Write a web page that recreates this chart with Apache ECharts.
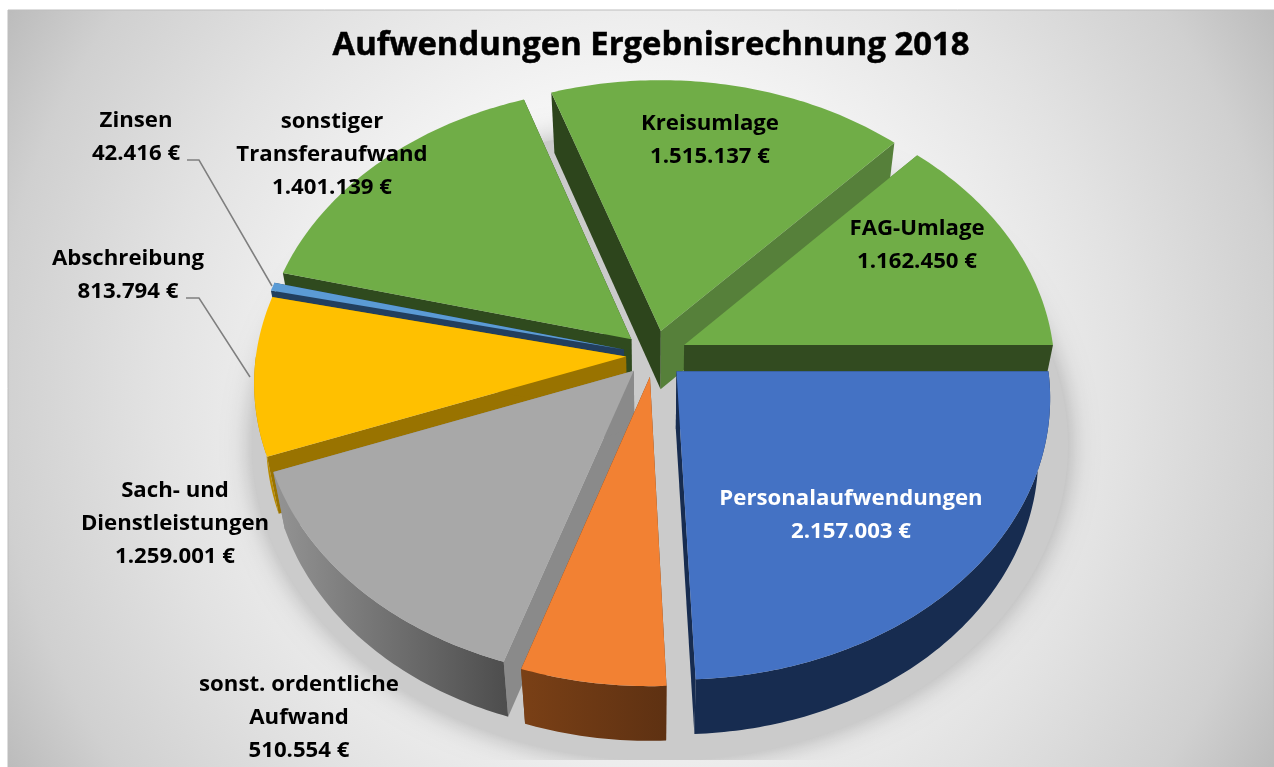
<!DOCTYPE html>
<html>
<head>
<meta charset="utf-8">
<style>html,body{margin:0;padding:0;background:#fff}#c{width:1274px;height:767px}</style>
<script src="https://cdn.jsdelivr.net/npm/echarts@6/dist/echarts.min.js"></script>
</head>
<body>
<div id="c"></div>
<script>
// ---- data ----
const chartTitle = 'Aufwendungen Ergebnisrechnung 2018';
const categories = ['Personalaufwendungen', 'sonst. ordentliche\nAufwand', 'Sach- und\nDienstleistungen', 'Abschreibung', 'Zinsen', 'sonstiger\nTransferaufwand', 'Kreisumlage', 'FAG-Umlage'];
const values = [2157003, 510554, 1259001, 813794, 42416, 1401139, 1515137, 1162450];

// ---- style ----
const topColors = ['#4472c4', '#f28133', '#a8a8a8', '#ffc000', '#5b9bd5', '#70ad47', '#70ad47', '#70ad47'];
const startWall = ['#172c50', '#6a3815', '#8a8a8a', '#997300', '#223f5e', '#2f4a1e', '#2d451c', '#56803a'];
const endWall = ['#172c50', '#6a3815', '#8a8a8a', '#997300', '#223f5e', '#2f4a1e', '#56803a', '#324b20'];
const rimFrom = ['#172c50', '#7a4016', '#949494', '#b88a00', '#223f5e', '#2f4a1e', '#2d451c', '#324b20'];
const rimTo = ['#172c50', '#5e3112', '#4e4e4e', '#b88a00', '#223f5e', '#2f4a1e', '#2d451c', '#324b20'];
const labelColors = ['#fff', '#000', '#000', '#000', '#000', '#000', '#000', '#000'];
const explode = [31, 29, 29, 28, 31, 31, 33, 33];
const drawOrder = [5, 6, 7, 4, 3, 2, 1, 0];
const labelAnchors = [[851, 515], [299, 718], [175, 524], [128, 275], [136, 137], [332, 155], [710, 140], [917, 245]];
const leaders = { 4: [[187, 160], [199, 160], [272, 286]], 3: [[186, 298], [199, 298], [250, 377]] };
const LABEL_FONT = 'bold 22.2px "Open Sans"';

const CX = 654, CY = 355, R = 370, K = 0.75, A = 0.09, DEPTH = 58, SHRINK_X = 0.97, SHRINK_Y = 0.99;
const TOTAL = values.reduce((a, b) => a + b, 0);

function project(px, py, lower) {
  const p = 1 / (1 - A * py / R);
  const x = px * p, y = K * py * p;
  return lower ? [CX + x * SHRINK_X, CY + y * SHRINK_Y + DEPTH] : [CX + x, CY + y];
}
function euro(v) {
  return String(v).replace(/\B(?=(\d{3})+$)/g, '.') + ' €';
}
const bgFill = {
  type: 'radial', x: 641, y: 388, r: 750, global: true,
  colorStops: [
    { offset: 0, color: '#ffffff' }, { offset: 0.38, color: '#f6f6f6' },
    { offset: 0.65, color: '#e2e2e2' }, { offset: 0.86, color: '#d0d0d0' }, { offset: 1, color: '#b9b9b9' }
  ]
};

function renderBackdrop() {
  return {
    type: 'group',
    children: [
      { type: 'rect', z2: 0, shape: { x: 8, y: 10, width: 1266, height: 757 }, style: { fill: bgFill, stroke: '#bdbdbd', lineWidth: 1 } },
      { type: 'ellipse', z2: 1, shape: { cx: 660, cy: 445, rx: 408, ry: 316 }, style: { fill: '#cbcbcb', shadowColor: 'rgba(0,0,0,0.28)', shadowBlur: 28 } },
      { type: 'rect', z2: 2, shape: { x: 8, y: 760, width: 1266, height: 7 }, style: { fill: bgFill } }
    ]
  };
}

function renderSlice(params, api) {
  const i = api.value(0);
  const v = api.value(1);
  let before = 0;
  for (let k = 0; k < i; k++) before += values[k];
  const a1 = before / TOTAL * 2 * Math.PI;
  const a2 = (before + v) / TOTAL * 2 * Math.PI;
  const mid = (a1 + a2) / 2;
  const ex = explode[i] * Math.cos(mid), ey = explode[i] * Math.sin(mid);
  const rim = (from, to, lower) => {
    const pts = [];
    const n = Math.max(4, Math.ceil((to - from) / 0.015));
    for (let s = 0; s <= n; s++) {
      const t = from + (to - from) * s / n;
      pts.push(project(ex + R * Math.cos(t), ey + R * Math.sin(t), lower));
    }
    return pts;
  };
  const rimTop = rim(a1, a2, false), rimBot = rim(a1, a2, true);
  const apexTop = project(ex, ey, false), apexBot = project(ex, ey, true);
  const base = (drawOrder.indexOf(i) + 1) * 10;
  const children = [
    { type: 'polygon', z2: base, shape: { points: [apexTop, rimTop[0], rimBot[0], apexBot] }, style: { fill: startWall[i] } },
    { type: 'polygon', z2: base, shape: { points: [apexTop, rimTop[rimTop.length - 1], rimBot[rimBot.length - 1], apexBot] }, style: { fill: endWall[i] } }
  ];
  // the outer wall shows only on the half of the disc that faces the viewer
  const f1 = a1, f2 = Math.min(a2, Math.PI);
  if (f2 > f1) {
    const front = rim(f1, f2, false), frontBot = rim(f1, f2, true);
    const xs = front.map(p => p[0]);
    const x0 = Math.min(...xs), x1 = Math.max(...xs);
    children.push({ type: 'polygon', z2: base + 1, shape: { points: front.concat(frontBot.slice().reverse()) },
      style: { fill: { type: 'linear', x: x0, y: 0, x2: x1, y2: 0, global: true, colorStops: [{ offset: 0, color: rimFrom[i] }, { offset: 1, color: rimTo[i] }] } } });
  }
  children.push(
    { type: 'polygon', z2: base + 2, shape: { points: [apexTop].concat(rimTop) }, style: { fill: topColors[i] } },
    { type: 'text', z2: 500, style: {
        text: categories[i] + '\n' + euro(v), x: labelAnchors[i][0], y: labelAnchors[i][1],
        align: 'center', verticalAlign: 'middle', font: LABEL_FONT, lineHeight: 33, fill: labelColors[i]
      } }
  );
  if (leaders[i]) {
    children.push({ type: 'polyline', z2: 400, shape: { points: leaders[i] }, style: { fill: 'none', stroke: '#7f7f7f', lineWidth: 1.5 } });
  }
  return { type: 'group', children };
}

const chart = echarts.init(document.getElementById('c'), null, { renderer: 'canvas' });
chart.setOption({
  animation: false,
  backgroundColor: '#ffffff',
  title: {
    text: chartTitle, left: 646, top: 24, textAlign: 'center',
    textStyle: { fontFamily: 'Open Sans', fontWeight: 'bold', fontSize: 32.8, color: '#000', textBorderColor: '#000', textBorderWidth: 0.5 }
  },
  series: [
    { type: 'custom', coordinateSystem: 'none', z: 1, silent: true, data: [[0]], renderItem: renderBackdrop },
    { type: 'custom', coordinateSystem: 'none', z: 2, silent: true,
      dimensions: ['index', 'value'],
      data: drawOrder.map(i => [i, values[i]]), renderItem: renderSlice }
  ]
});
</script>
</body>
</html>
